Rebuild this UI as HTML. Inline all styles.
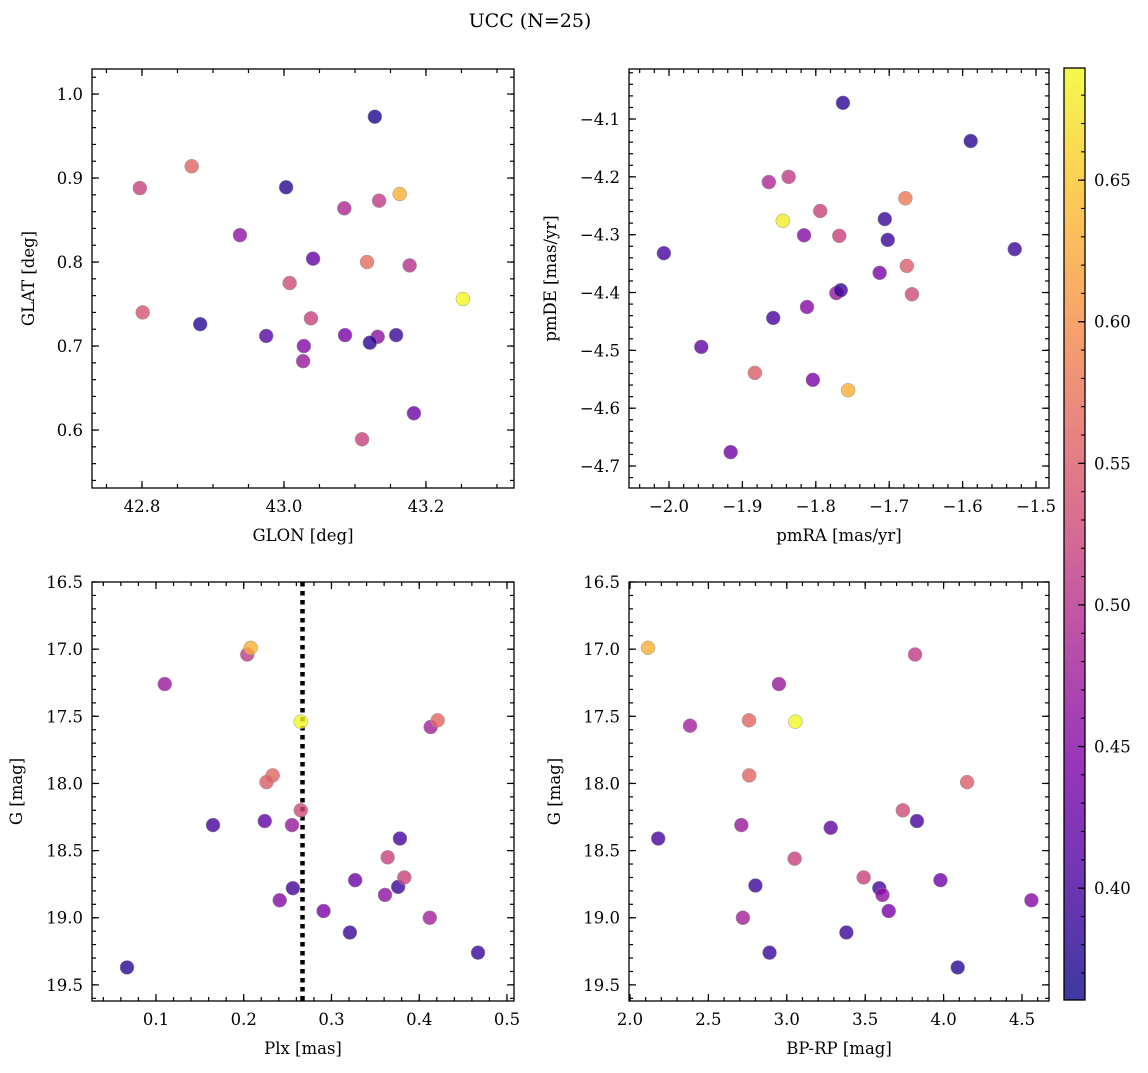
<!DOCTYPE html>
<html><head><meta charset="utf-8"><title>UCC (N=25)</title>
<style>
html,body{margin:0;padding:0;background:#fff;}
svg text{font-family:"DejaVu Serif","Liberation Serif",serif;fill:#000;}
</style></head>
<body>
<svg id="fig" width="1148" height="1068" xmlns="http://www.w3.org/2000/svg">
<text x="530" y="27" font-size="19" text-anchor="middle">UCC (N=25)</text>
</svg>
<script>
// ---- data (colour value per star) ----
const glon = [42.797,42.870,42.938,43.003,43.128,43.085,43.134,43.163,43.041,43.117,43.177,43.008,43.252,42.801,42.882,42.975,43.038,43.028,43.027,43.086,43.132,43.121,43.158,43.110,43.183];
const glat = [0.888,0.914,0.832,0.889,0.973,0.864,0.873,0.881,0.804,0.800,0.796,0.775,0.756,0.740,0.726,0.712,0.733,0.700,0.682,0.713,0.711,0.704,0.713,0.589,0.620];
const glonC = [0.52,0.56,0.46,0.38,0.37,0.49,0.51,0.63,0.42,0.57,0.50,0.53,0.69,0.54,0.38,0.41,0.52,0.45,0.47,0.44,0.46,0.38,0.39,0.52,0.43];

const pmra = [-1.763,-1.589,-1.864,-1.837,-1.678,-1.845,-1.794,-1.706,-1.816,-1.768,-1.702,-2.007,-1.529,-1.676,-1.713,-1.669,-1.772,-1.766,-1.812,-1.858,-1.956,-1.883,-1.804,-1.756,-1.916];
const pmde = [-4.072,-4.138,-4.209,-4.200,-4.237,-4.276,-4.259,-4.273,-4.301,-4.302,-4.309,-4.332,-4.325,-4.354,-4.366,-4.403,-4.401,-4.396,-4.425,-4.444,-4.494,-4.539,-4.551,-4.569,-4.676];
const pmC = [0.38,0.38,0.49,0.51,0.58,0.68,0.52,0.39,0.45,0.52,0.39,0.40,0.39,0.55,0.44,0.53,0.47,0.39,0.45,0.40,0.42,0.55,0.44,0.63,0.43];

const plx = [0.067,0.110,0.165,0.204,0.208,0.265,0.233,0.226,0.265,0.224,0.255,0.256,0.241,0.291,0.321,0.327,0.364,0.361,0.376,0.378,0.383,0.413,0.421,0.412,0.467];
const gPlx = [19.37,17.26,18.31,17.04,16.99,17.54,17.94,17.99,18.20,18.28,18.31,18.78,18.87,18.95,19.11,18.72,18.55,18.83,18.77,18.41,18.70,17.58,17.53,19.00,19.26];
const plxC = [0.38,0.47,0.40,0.51,0.63,0.69,0.56,0.55,0.53,0.42,0.47,0.40,0.45,0.44,0.39,0.43,0.52,0.46,0.39,0.40,0.52,0.48,0.56,0.48,0.39];
const plxLine = 0.267;

const bprp = [2.115,3.818,2.950,2.383,2.759,3.055,2.760,4.150,3.740,3.830,2.710,3.280,2.180,3.050,3.490,3.980,2.800,3.590,3.610,4.560,3.650,2.720,3.380,2.890,4.090];
const gCol = [16.99,17.04,17.26,17.57,17.53,17.54,17.94,17.99,18.20,18.28,18.31,18.33,18.41,18.56,18.70,18.72,18.76,18.78,18.83,18.87,18.95,19.00,19.11,19.26,19.37];
const colC = [0.63,0.51,0.47,0.48,0.56,0.69,0.56,0.55,0.53,0.40,0.47,0.42,0.40,0.52,0.52,0.43,0.39,0.40,0.46,0.45,0.44,0.48,0.39,0.39,0.38];

const cbTicks = [0.40,0.45,0.50,0.55,0.60,0.65];
const cMin = 0.3605, cMax = 0.6896;

// ---- helpers ----
const NS = "http://www.w3.org/2000/svg";
const svg = document.getElementById('fig');
function mk(tag, attrs, parent){ const e=document.createElementNS(NS,tag); for(const k in attrs) e.setAttribute(k,attrs[k]); (parent||svg).appendChild(e); return e; }
const stops = [[0,[13,8,135]],[0.13,[75,3,161]],[0.25,[125,3,168]],[0.38,[168,34,150]],[0.5,[203,70,121]],[0.63,[229,107,93]],[0.75,[248,148,65]],[0.88,[253,195,40]],[1,[240,249,33]]];
function plasma(t){ t=Math.max(0,Math.min(1,t)); for(let i=1;i<stops.length;i++){ if(t<=stops[i][0]){ const a=stops[i-1],b=stops[i]; const f=(t-a[0])/(b[0]-a[0]); return 'rgb('+a[1].map((v,j)=>Math.round(v+(b[1][j]-v)*f)).join(',')+')'; } } return 'rgb(240,249,33)'; }
function cmap(v){ return plasma((v-cMin)/(cMax-cMin)); }
function dec(step){ return step>=1?0:Math.max(0,Math.ceil(-Math.log10(step)-1e-9)); }
function fmt(v,d){ let s=v.toFixed(d); if(s.startsWith('-')) s='\u2212'+s.slice(1); return s; }

function panel(o){
  const g = mk('g',{});
  
  
  const L=o.L,R=o.R,T=o.T,B=o.B;
  const sx = v => L + (v-o.x0)/(o.x1-o.x0)*(R-L);
  const sy = o.yinv ? (v => T + (v-o.y0)/(o.y1-o.y0)*(B-T)) : (v => B - (v-o.y0)/(o.y1-o.y0)*(B-T));
  const tg = mk('g',{stroke:'#000','stroke-width':1.2},g);
  function ticks(lo,hi,step,len,isX,label){
    const d=dec(o[isX?'xmaj':'ymaj']);
    const mn=Math.min(lo,hi), mx=Math.max(lo,hi);
    for(let k=Math.ceil(mn/step-1e-6);k*step<=mx+1e-9;k++){
      const v=k*step;
      if(isX){ const p=sx(v); mk('line',{x1:p,x2:p,y1:B,y2:B-len},tg); mk('line',{x1:p,x2:p,y1:T,y2:T+len},tg);
        if(label){ const t=mk('text',{x:p,y:B+24,'font-size':16.5,'text-anchor':'middle'},g); t.textContent=fmt(v,d);
            } }
      else { const p=sy(v); mk('line',{x1:L,x2:L+len,y1:p,y2:p},tg); mk('line',{x1:R,x2:R-len,y1:p,y2:p},tg);
        if(label){ const t=mk('text',{x:L-9,y:p+6,'font-size':16.5,'text-anchor':'end'},g); t.textContent=fmt(v,d);
            } }
    }
  }
  ticks(o.x0,o.x1,o.xmin,4,true,false);
  ticks(o.x0,o.x1,o.xmaj,7,true,true);
  ticks(o.y0,o.y1,o.ymin,4,false,false);
  ticks(o.y0,o.y1,o.ymaj,7,false,true);
  if(o.vline!==undefined){
    const ln=mk('line',{x1:sx(o.vline),x2:sx(o.vline),y1:T,y2:B,stroke:'#000','stroke-width':4.5,'stroke-dasharray':'4.5,4.5'},g);
     
  }
  for(let i=0;i<o.xs.length;i++){
    const c=mk('circle',{cx:sx(o.xs[i]),cy:sy(o.ys[i]),r:7,fill:cmap(o.cs[i]),'fill-opacity':0.8,stroke:'#999','stroke-width':0.5},g);
     
  }
  const fr=mk('rect',{x:L,y:T,width:R-L,height:B-T,fill:'none',stroke:'#000','stroke-width':1.3},g);
   
  const xl=mk('text',{x:(L+R)/2,y:B+53,'font-size':16.5,'text-anchor':'middle'},g); xl.textContent=o.xlabel;
   
  const yx=o.ylx, yy=(T+B)/2;
  const yl=mk('text',{x:yx,y:yy,'font-size':16.5,'text-anchor':'middle',transform:'rotate(-90 '+yx+' '+yy+')'},g); yl.textContent=o.ylabel;
   
}

panel({name:'glon-glat-panel',L:92,R:514,T:69,B:488,x0:42.7296,x1:43.324,y0:0.531,y1:1.0298,xmaj:0.2,xmin:0.05,ymaj:0.1,ymin:0.02,xs:glon,ys:glat,cs:glonC,xlabel:'GLON [deg]',ylabel:'GLAT [deg]',ylx:34});
panel({name:'proper-motion-panel',L:629,R:1049,T:69,B:488,x0:-2.0545,x1:-1.4823,y0:-4.738,y1:-4.0135,xmaj:0.1,xmin:0.02,ymaj:0.1,ymin:0.02,xs:pmra,ys:pmde,cs:pmC,xlabel:'pmRA [mas/yr]',ylabel:'pmDE [mas/yr]',ylx:556});
panel({name:'plx-g-panel',L:92,R:514,T:582,B:1001,x0:0.0271,x1:0.5080,y0:16.5,y1:19.6199,yinv:true,xmaj:0.1,xmin:0.02,ymaj:0.5,ymin:0.1,xs:plx,ys:gPlx,cs:plxC,xlabel:'Plx [mas]',ylabel:'G [mag]',ylx:22,vline:plxLine});
panel({name:'color-magnitude-panel',L:629,R:1049,T:582,B:1001,x0:1.9936,x1:4.6722,y0:16.5,y1:19.6199,yinv:true,xmaj:0.5,xmin:0.1,ymaj:0.5,ymin:0.1,xs:bprp,ys:gCol,cs:colC,xlabel:'BP-RP [mag]',ylabel:'G [mag]',ylx:560});

// colorbar
(function(){
  const L=1064,R=1085,T=68,B=1000;
  const g=mk('g',{});
   
  const defs=mk('defs',{},g);
  const lg=mk('linearGradient',{id:'cbg',x1:0,y1:1,x2:0,y2:0},defs);
  for(let i=0;i<=20;i++){ mk('stop',{offset:i/20,'stop-color':plasma(i/20)},lg); }
  mk('rect',{x:L,y:T,width:R-L,height:B-T,fill:'url(#cbg)','fill-opacity':0.8},g);
  const sy=v=>B-(v-cMin)/(cMax-cMin)*(B-T);
  for(let k=Math.ceil(cMin/0.01);k*0.01<=cMax;k++){ const p=sy(k*0.01); mk('line',{x1:R,x2:R-4,y1:p,y2:p,stroke:'#000','stroke-width':1.1},g); }
  cbTicks.forEach(v=>{ const p=sy(v); mk('line',{x1:R,x2:R-7,y1:p,y2:p,stroke:'#000','stroke-width':1.2},g);
    const t=mk('text',{x:R+9,y:p+6,'font-size':16.5},g); t.textContent=v.toFixed(2);
      });
  mk('rect',{x:L,y:T,width:R-L,height:B-T,fill:'none',stroke:'#000','stroke-width':1.3},g);
})();
</script>
</body></html>
